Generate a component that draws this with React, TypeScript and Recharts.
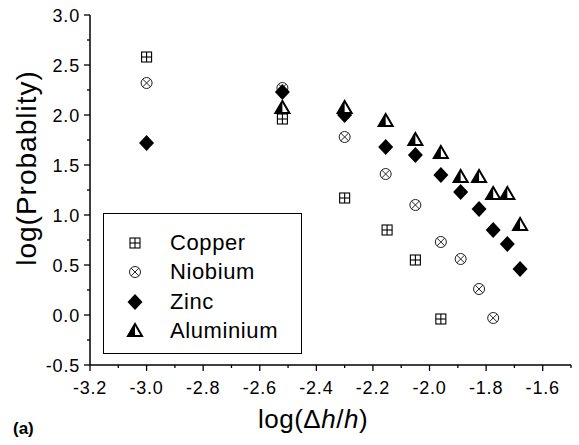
import { Legend, ResponsiveContainer, Scatter, ScatterChart, XAxis, YAxis } from "recharts";

// values
const seriesNames = ["Copper", "Niobium", "Zinc", "Aluminium"];
const copperX = [-3.0, -2.52, -2.3, -2.15, -2.05, -1.96];
const copperY = [2.58, 1.96, 1.17, 0.85, 0.55, -0.04];
const niobiumX = [-3.0, -2.52, -2.3, -2.155, -2.05, -1.96, -1.89, -1.825, -1.775];
const niobiumY = [2.32, 2.27, 1.78, 1.41, 1.1, 0.73, 0.56, 0.26, -0.03];
const zincX = [-3.0, -2.52, -2.3, -2.155, -2.05, -1.96, -1.89, -1.825, -1.775, -1.725, -1.68];
const zincY = [1.72, 2.23, 2.0, 1.68, 1.6, 1.4, 1.23, 1.06, 0.85, 0.71, 0.46];
const aluX = [-2.52, -2.3, -2.155, -2.05, -1.96, -1.89, -1.825, -1.775, -1.725, -1.68];
const aluY = [2.07, 2.07, 1.94, 1.75, 1.62, 1.38, 1.38, 1.21, 1.21, 0.9];

const xTicks = [-3.2, -3.1, -3.0, -2.9, -2.8, -2.7, -2.6, -2.5, -2.4, -2.3, -2.2, -2.1, -2.0, -1.9, -1.8, -1.7, -1.6, -1.5];
const xMajor = [-3.2, -3.0, -2.8, -2.6, -2.4, -2.2, -2.0, -1.8, -1.6];
const yTicks = [-0.5, -0.25, 0, 0.25, 0.5, 0.75, 1.0, 1.25, 1.5, 1.75, 2.0, 2.25, 2.5, 2.75, 3.0];
const yMajor = [-0.5, 0, 0.5, 1.0, 1.5, 2.0, 2.5, 3.0];

const pts = (xs: number[], ys: number[]) => xs.map((x, i) => ({ x, y: ys[i] }));
const isMajor = (v: number, list: number[]) => list.some((m) => Math.abs(m - v) < 1e-6);

const FONT = "'Liberation Sans', Arial, Helvetica, sans-serif";

const CopperMark = ({ cx, cy }: any) => (
  <g stroke="#000" strokeWidth={1.1} fill="#fff">
    <rect x={cx - 5} y={cy - 5} width={10} height={10} />
    <line x1={cx} y1={cy - 5} x2={cx} y2={cy + 5} />
    <line x1={cx - 5} y1={cy} x2={cx + 5} y2={cy} />
  </g>
);

const NiobiumMark = ({ cx, cy }: any) => (
  <g stroke="#222" strokeWidth={1} fill="#fff">
    <circle cx={cx} cy={cy} r={5.5} />
    <line x1={cx - 3.9} y1={cy - 3.9} x2={cx + 3.9} y2={cy + 3.9} />
    <line x1={cx - 3.9} y1={cy + 3.9} x2={cx + 3.9} y2={cy - 3.9} />
  </g>
);

const ZincMark = ({ cx, cy }: any) => (
  <polygon points={`${cx},${cy - 8} ${cx + 7.5},${cy} ${cx},${cy + 8} ${cx - 7.5},${cy}`} fill="#000" />
);

const AluMark = ({ cx, cy }: any) => (
  <g>
    <polygon points={`${cx},${cy - 7} ${cx + 7},${cy + 5} ${cx - 7},${cy + 5}`} fill="#fff" stroke="#000" strokeWidth={2} strokeLinejoin="miter" />
    <polygon points={`${cx},${cy - 7} ${cx},${cy + 5} ${cx - 7},${cy + 5}`} fill="#000" />
  </g>
);

const marks: Record<string, any> = { Copper: CopperMark, Niobium: NiobiumMark, Zinc: ZincMark, Aluminium: AluMark };

const XTick = ({ x, y, payload }: any) => {
  const major = isMajor(payload.value, xMajor);
  return (
    <g>
      <line x1={x} y1={y} x2={x} y2={y + (major ? 6 : 3)} stroke="#000" strokeWidth={1.3} />
      {major && (
        <text x={x} y={y + 29} textAnchor="middle" fontSize={18} letterSpacing={0.8} fontFamily={FONT} fill="#000">
          {payload.value.toFixed(1)}
        </text>
      )}
    </g>
  );
};

const YTick = ({ x, y, payload }: any) => {
  const major = isMajor(payload.value, yMajor);
  return (
    <g>
      <line x1={x} y1={y} x2={x - (major ? 6 : 3)} y2={y} stroke="#000" strokeWidth={1.3} />
      {major && (
        <text x={x - 10} y={y + 6.5} textAnchor="end" fontSize={18} letterSpacing={0.8} fontFamily={FONT} fill="#000">
          {payload.value.toFixed(1)}
        </text>
      )}
    </g>
  );
};

// keep the legend in the order of the figure, not sorted
const LegendBox = ({ payload }: any) => {
  const names = seriesNames.filter((n) => (payload || []).some((p: any) => p.value === n));
  return (
    <div style={{ border: "1.3px solid #000", width: 199, height: 141, boxSizing: "border-box", padding: "14px 0 0 0", background: "#fff" }}>
      {names.map((n) => {
        const M = marks[n];
        return (
          <div key={n} style={{ display: "flex", alignItems: "center", height: 29.5 }}>
            <svg width={66} height={24}>
              <M cx={31} cy={12} />
            </svg>
            <span style={{ fontFamily: FONT, fontSize: 22, letterSpacing: 0.6, color: "#000" }}>{n}</span>
          </div>
        );
      })}
    </div>
  );
};

export default function App() {
  return (
    <div style={{ position: "relative", width: 579, height: 445, background: "#fff" }}>
      <style>{"body{margin:0}"}</style>
      <ResponsiveContainer width={579} height={445}>
        <ScatterChart margin={{ top: 15, right: 8, bottom: 50, left: 0 }}>
          <XAxis
            type="number"
            dataKey="x"
            domain={[-3.2, -1.5]}
            ticks={xTicks}
            interval={0}
            tick={<XTick />}
            tickLine={false}
            tickSize={0}
            tickMargin={0}
            height={30}
            axisLine={{ stroke: "#000", strokeWidth: 1.5 }}
          />
          <YAxis
            type="number"
            dataKey="y"
            domain={[-0.5, 3.0]}
            ticks={yTicks}
            interval={0}
            tick={<YTick />}
            tickLine={false}
            tickSize={0}
            tickMargin={0}
            width={90}
            axisLine={{ stroke: "#000", strokeWidth: 1.5 }}
          />
          <Legend
            layout="vertical"
            align="center"
            verticalAlign="middle"
            content={<LegendBox />}
            wrapperStyle={{ left: 103, top: 213, width: 201, height: 143 }}
          />
          <Scatter name="Copper" data={pts(copperX, copperY)} shape={<CopperMark />} isAnimationActive={false} />
          <Scatter name="Niobium" data={pts(niobiumX, niobiumY)} shape={<NiobiumMark />} isAnimationActive={false} />
          <Scatter name="Zinc" data={pts(zincX, zincY)} shape={<ZincMark />} isAnimationActive={false} />
          <Scatter name="Aluminium" data={pts(aluX, aluY)} shape={<AluMark />} isAnimationActive={false} />
        </ScatterChart>
      </ResponsiveContainer>
      <div
        style={{
          position: "absolute",
          left: 27,
          top: 168,
          transform: "translate(-50%, -50%) rotate(-90deg)",
          fontFamily: FONT,
          fontSize: 28,
          letterSpacing: 1,
          whiteSpace: "nowrap",
        }}
      >
        log(Probablity)
      </div>
      <div style={{ position: "absolute", left: 258, top: 404, fontFamily: FONT, fontSize: 26, letterSpacing: 0.5, whiteSpace: "nowrap" }}>
        log(Δ<i>h</i>/<i>h</i>)
      </div>
      <div style={{ position: "absolute", left: 13, top: 419, fontFamily: FONT, fontSize: 17, fontWeight: "bold" }}>(a)</div>
    </div>
  );
}
